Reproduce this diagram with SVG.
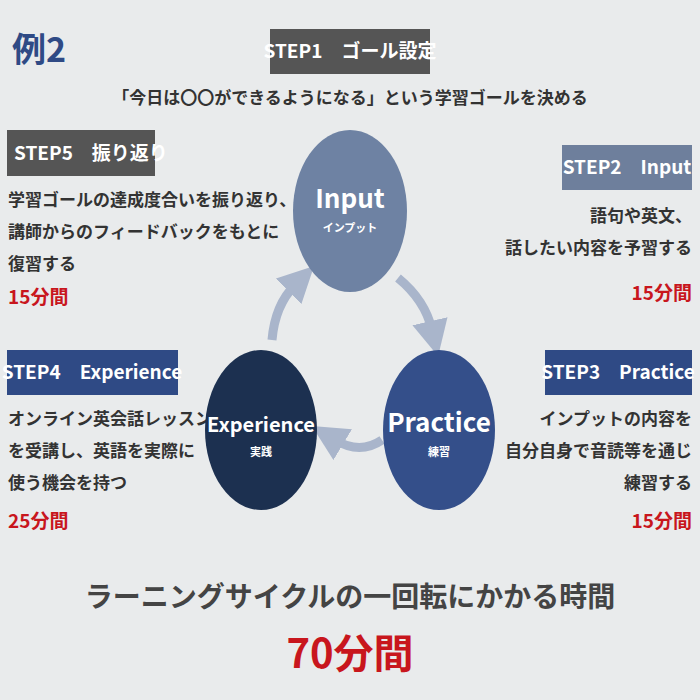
<svg xmlns="http://www.w3.org/2000/svg" width="700" height="700" viewBox="0 0 700 700">
<style>
text{font-family:"Noto Sans CJK JP","Noto Sans",sans-serif;font-weight:bold}
.hd{fill:#fff;font-size:19px}
.bd{fill:#333;font-size:17px}
.rd{fill:#c8161d;font-size:19px}
.arr{fill:none;stroke:#a9b5cb;stroke-width:9}
</style>
<defs>
<marker id="ah" markerWidth="4" markerHeight="4" refX="1" refY="2" orient="auto"><path d="M0,0 L4,2 L0,4 Z" fill="#a9b5cb"/></marker>
</defs>
<rect width="700" height="700" fill="#e9ebec"/>
<text x="12" y="62" font-size="34" fill="#2f4a85">例2</text>
<g id="step1"><rect x="270" y="29" width="160" height="45" fill="#555"/><text class="hd" x="350" y="58" text-anchor="middle">STEP1　ゴール設定</text>
<text class="bd" x="350" y="104" text-anchor="middle">「今日は〇〇ができるようになる」という学習ゴールを決める</text></g>
<g id="step5"><rect x="7" y="130" width="148" height="46" fill="#555"/><text class="hd" x="14" y="160">STEP5　振り返り</text>
<text class="bd" x="8" y="206">学習ゴールの達成度合いを振り返り、</text>
<text class="bd" x="8" y="238">講師からのフィードバックをもとに</text>
<text class="bd" x="8" y="270">復習する</text>
<text class="rd" x="8" y="304">15分間</text></g>
<g id="step2"><rect x="562" y="145" width="130" height="45" fill="#6e7f9c"/><text class="hd" x="627" y="174" text-anchor="middle">STEP2　Input</text>
<text class="bd" x="692" y="222" text-anchor="end">語句や英文、</text>
<text class="bd" x="692" y="254" text-anchor="end">話したい内容を予習する</text>
<text class="rd" x="692" y="300" text-anchor="end">15分間</text></g>
<g id="step4"><rect x="7" y="350" width="171" height="45" fill="#2f4a85"/><text class="hd" x="92" y="379" text-anchor="middle">STEP4　Experience</text>
<text class="bd" x="8" y="425">オンライン英会話レッスン</text>
<text class="bd" x="8" y="457">を受講し、英語を実際に</text>
<text class="bd" x="8" y="489">使う機会を持つ</text>
<text class="rd" x="8" y="528">25分間</text></g>
<g id="step3"><rect x="545" y="350" width="147" height="45" fill="#2f4a85"/><text class="hd" x="618" y="379" text-anchor="middle">STEP3　Practice</text>
<text class="bd" x="692" y="425" text-anchor="end">インプットの内容を</text>
<text class="bd" x="692" y="457" text-anchor="end">自分自身で音読等を通じ</text>
<text class="bd" x="692" y="489" text-anchor="end">練習する</text>
<text class="rd" x="692" y="528" text-anchor="end">15分間</text></g>
<g id="connectors">
<path class="arr" d="M398,278 Q425,300 432,330" marker-end="url(#ah)"/>
<path class="arr" d="M382,440 Q360,455 335,440" marker-end="url(#ah)"/>
<path class="arr" d="M272,340 Q275,305 295,285" marker-end="url(#ah)"/>
</g>
<g id="input"><ellipse cx="350" cy="211" rx="57" ry="81" fill="#6e82a3"/><text x="350" y="208" fill="#fff" font-size="26" text-anchor="middle">Input</text><text x="350" y="232" fill="#fff" font-size="11" text-anchor="middle">インプット</text></g>
<g id="practice"><ellipse cx="439" cy="430" rx="56" ry="80" fill="#344f8a"/><text x="439" y="432" fill="#fff" font-size="26" text-anchor="middle">Practice</text><text x="439" y="456" fill="#fff" font-size="11" text-anchor="middle">練習</text></g>
<g id="experience"><ellipse cx="261" cy="430" rx="56" ry="80" fill="#1c3050"/><text x="261" y="432" fill="#fff" font-size="20" text-anchor="middle">Experience</text><text x="261" y="456" fill="#fff" font-size="11" text-anchor="middle">実践</text></g>
<text x="350" y="607" fill="#444" font-size="28" text-anchor="middle">ラーニングサイクルの一回転にかかる時間</text>
<text x="350" y="668" fill="#c8161d" font-size="40" text-anchor="middle">70分間</text>
</svg>
